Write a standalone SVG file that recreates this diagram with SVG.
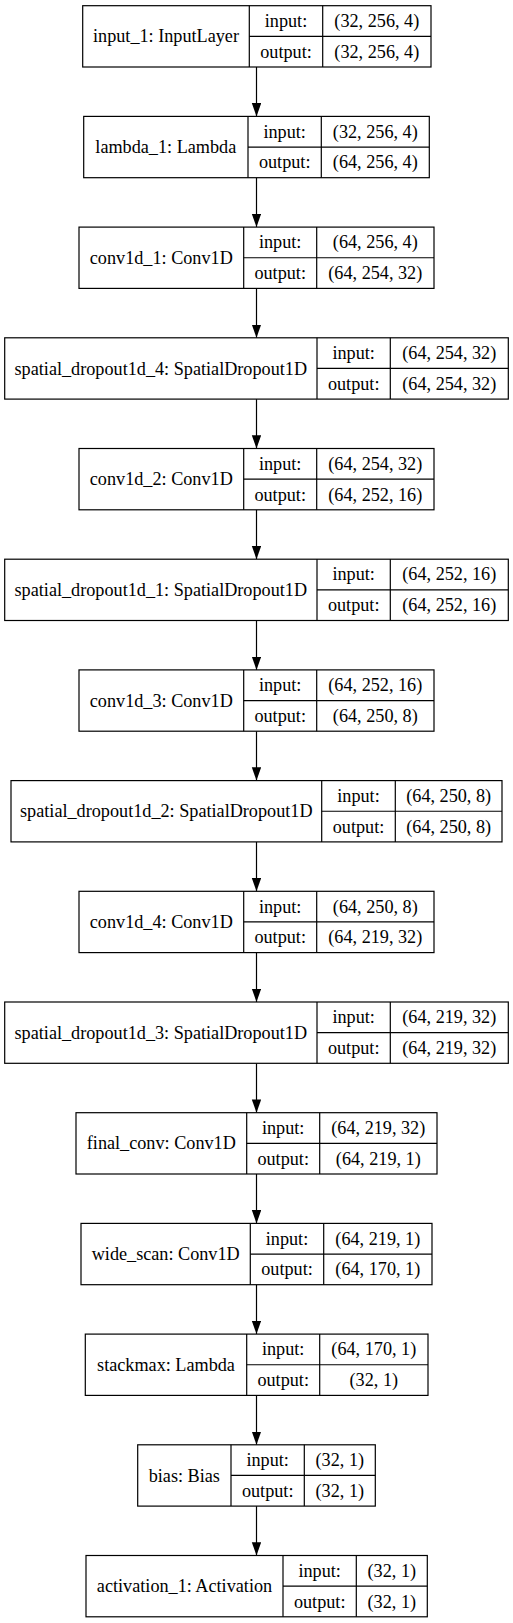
<svg xmlns="http://www.w3.org/2000/svg" width="513" height="1623" viewBox="0 0 513 1623">
<style>
rect,line.s{fill:#fff;stroke:#000;stroke-width:1.2}
text{font-family:"Liberation Serif","Times New Roman",serif;font-size:18.2px;fill:#000;text-anchor:middle}
.c line{stroke:#000;stroke-width:1.2}
</style>
<defs>
<marker id="ah" markerUnits="userSpaceOnUse" markerWidth="14" markerHeight="10" refX="13.3" refY="4.7" orient="auto">
<path d="M0,0 L13.3,4.7 L0,9.4 z" fill="#000"/>
</marker>
</defs>
<rect x="0" y="0" width="513" height="1623" style="stroke:none"/>
<g class="c" id="connectors">
<line x1="256.5" y1="67" x2="256.5" y2="116.4" marker-end="url(#ah)"/>
<line x1="256.5" y1="177.7" x2="256.5" y2="227.1" marker-end="url(#ah)"/>
<line x1="256.5" y1="288.4" x2="256.5" y2="337.8" marker-end="url(#ah)"/>
<line x1="256.5" y1="399.1" x2="256.5" y2="448.5" marker-end="url(#ah)"/>
<line x1="256.5" y1="509.8" x2="256.5" y2="559.2" marker-end="url(#ah)"/>
<line x1="256.5" y1="620.5" x2="256.5" y2="669.9" marker-end="url(#ah)"/>
<line x1="256.5" y1="731.2" x2="256.5" y2="780.6" marker-end="url(#ah)"/>
<line x1="256.5" y1="841.9" x2="256.5" y2="891.3" marker-end="url(#ah)"/>
<line x1="256.5" y1="952.6" x2="256.5" y2="1002" marker-end="url(#ah)"/>
<line x1="256.5" y1="1063.3" x2="256.5" y2="1112.7" marker-end="url(#ah)"/>
<line x1="256.5" y1="1174" x2="256.5" y2="1223.4" marker-end="url(#ah)"/>
<line x1="256.5" y1="1284.7" x2="256.5" y2="1334.1" marker-end="url(#ah)"/>
<line x1="256.5" y1="1395.4" x2="256.5" y2="1444.8" marker-end="url(#ah)"/>
<line x1="256.5" y1="1506.1" x2="256.5" y2="1555.5" marker-end="url(#ah)"/>
</g>
<g id="input_1" transform="translate(0,5.7)">
<rect x="82.7" y="0" width="348.3" height="61.3"/>
<line class="s" x1="249.3" y1="0" x2="249.3" y2="61.3"/><line class="s" x1="322.7" y1="0" x2="322.7" y2="61.3"/><line class="s" x1="249.3" y1="30.65" x2="431" y2="30.65"/>
<text x="166" y="36.8">input_1: InputLayer</text>
<text x="286" y="21.3">input:</text><text x="376.8" y="21.3">(32, 256, 4)</text>
<text x="286" y="52">output:</text><text x="376.8" y="52">(32, 256, 4)</text>
</g>
<g id="lambda_1" transform="translate(0,116.4)">
<rect x="83.7" y="0" width="345.6" height="61.3"/>
<line class="s" x1="248" y1="0" x2="248" y2="61.3"/><line class="s" x1="321.3" y1="0" x2="321.3" y2="61.3"/><line class="s" x1="248" y1="30.65" x2="429.3" y2="30.65"/>
<text x="165.8" y="36.8">lambda_1: Lambda</text>
<text x="284.7" y="21.3">input:</text><text x="375.3" y="21.3">(32, 256, 4)</text>
<text x="284.7" y="52">output:</text><text x="375.3" y="52">(64, 256, 4)</text>
</g>
<g id="conv1d_1" transform="translate(0,227.1)">
<rect x="79" y="0" width="355" height="61.3"/>
<line class="s" x1="243.7" y1="0" x2="243.7" y2="61.3"/><line class="s" x1="316.7" y1="0" x2="316.7" y2="61.3"/><line class="s" x1="243.7" y1="30.65" x2="434" y2="30.65"/>
<text x="161.3" y="36.8">conv1d_1: Conv1D</text>
<text x="280.2" y="21.3">input:</text><text x="375.3" y="21.3">(64, 256, 4)</text>
<text x="280.2" y="52">output:</text><text x="375.3" y="52">(64, 254, 32)</text>
</g>
<g id="spatial_dropout1d_4" transform="translate(0,337.8)">
<rect x="4.7" y="0" width="503.6" height="61.3"/>
<line class="s" x1="317" y1="0" x2="317" y2="61.3"/><line class="s" x1="390.3" y1="0" x2="390.3" y2="61.3"/><line class="s" x1="317" y1="30.65" x2="508.3" y2="30.65"/>
<text x="160.8" y="36.8">spatial_dropout1d_4: SpatialDropout1D</text>
<text x="353.7" y="21.3">input:</text><text x="449.3" y="21.3">(64, 254, 32)</text>
<text x="353.7" y="52">output:</text><text x="449.3" y="52">(64, 254, 32)</text>
</g>
<g id="conv1d_2" transform="translate(0,448.5)">
<rect x="79" y="0" width="355" height="61.3"/>
<line class="s" x1="243.7" y1="0" x2="243.7" y2="61.3"/><line class="s" x1="316.7" y1="0" x2="316.7" y2="61.3"/><line class="s" x1="243.7" y1="30.65" x2="434" y2="30.65"/>
<text x="161.3" y="36.8">conv1d_2: Conv1D</text>
<text x="280.2" y="21.3">input:</text><text x="375.3" y="21.3">(64, 254, 32)</text>
<text x="280.2" y="52">output:</text><text x="375.3" y="52">(64, 252, 16)</text>
</g>
<g id="spatial_dropout1d_1" transform="translate(0,559.2)">
<rect x="4.7" y="0" width="503.6" height="61.3"/>
<line class="s" x1="317" y1="0" x2="317" y2="61.3"/><line class="s" x1="390.3" y1="0" x2="390.3" y2="61.3"/><line class="s" x1="317" y1="30.65" x2="508.3" y2="30.65"/>
<text x="160.8" y="36.8">spatial_dropout1d_1: SpatialDropout1D</text>
<text x="353.7" y="21.3">input:</text><text x="449.3" y="21.3">(64, 252, 16)</text>
<text x="353.7" y="52">output:</text><text x="449.3" y="52">(64, 252, 16)</text>
</g>
<g id="conv1d_3" transform="translate(0,669.9)">
<rect x="79" y="0" width="355" height="61.3"/>
<line class="s" x1="243.7" y1="0" x2="243.7" y2="61.3"/><line class="s" x1="316.7" y1="0" x2="316.7" y2="61.3"/><line class="s" x1="243.7" y1="30.65" x2="434" y2="30.65"/>
<text x="161.3" y="36.8">conv1d_3: Conv1D</text>
<text x="280.2" y="21.3">input:</text><text x="375.3" y="21.3">(64, 252, 16)</text>
<text x="280.2" y="52">output:</text><text x="375.3" y="52">(64, 250, 8)</text>
</g>
<g id="spatial_dropout1d_2" transform="translate(0,780.6)">
<rect x="11" y="0" width="491" height="61.3"/>
<line class="s" x1="321.7" y1="0" x2="321.7" y2="61.3"/><line class="s" x1="395.3" y1="0" x2="395.3" y2="61.3"/><line class="s" x1="321.7" y1="30.65" x2="502" y2="30.65"/>
<text x="166.3" y="36.8">spatial_dropout1d_2: SpatialDropout1D</text>
<text x="358.5" y="21.3">input:</text><text x="448.7" y="21.3">(64, 250, 8)</text>
<text x="358.5" y="52">output:</text><text x="448.7" y="52">(64, 250, 8)</text>
</g>
<g id="conv1d_4" transform="translate(0,891.3)">
<rect x="79" y="0" width="355" height="61.3"/>
<line class="s" x1="243.7" y1="0" x2="243.7" y2="61.3"/><line class="s" x1="316.7" y1="0" x2="316.7" y2="61.3"/><line class="s" x1="243.7" y1="30.65" x2="434" y2="30.65"/>
<text x="161.3" y="36.8">conv1d_4: Conv1D</text>
<text x="280.2" y="21.3">input:</text><text x="375.3" y="21.3">(64, 250, 8)</text>
<text x="280.2" y="52">output:</text><text x="375.3" y="52">(64, 219, 32)</text>
</g>
<g id="spatial_dropout1d_3" transform="translate(0,1002)">
<rect x="4.7" y="0" width="503.6" height="61.3"/>
<line class="s" x1="317" y1="0" x2="317" y2="61.3"/><line class="s" x1="390.3" y1="0" x2="390.3" y2="61.3"/><line class="s" x1="317" y1="30.65" x2="508.3" y2="30.65"/>
<text x="160.8" y="36.8">spatial_dropout1d_3: SpatialDropout1D</text>
<text x="353.7" y="21.3">input:</text><text x="449.3" y="21.3">(64, 219, 32)</text>
<text x="353.7" y="52">output:</text><text x="449.3" y="52">(64, 219, 32)</text>
</g>
<g id="final_conv" transform="translate(0,1112.7)">
<rect x="76" y="0" width="361" height="61.3"/>
<line class="s" x1="246.7" y1="0" x2="246.7" y2="61.3"/><line class="s" x1="319.7" y1="0" x2="319.7" y2="61.3"/><line class="s" x1="246.7" y1="30.65" x2="437" y2="30.65"/>
<text x="161.3" y="36.8">final_conv: Conv1D</text>
<text x="283.2" y="21.3">input:</text><text x="378.3" y="21.3">(64, 219, 32)</text>
<text x="283.2" y="52">output:</text><text x="378.3" y="52">(64, 219, 1)</text>
</g>
<g id="wide_scan" transform="translate(0,1223.4)">
<rect x="81" y="0" width="351" height="61.3"/>
<line class="s" x1="250.3" y1="0" x2="250.3" y2="61.3"/><line class="s" x1="323.7" y1="0" x2="323.7" y2="61.3"/><line class="s" x1="250.3" y1="30.65" x2="432" y2="30.65"/>
<text x="165.7" y="36.8">wide_scan: Conv1D</text>
<text x="287" y="21.3">input:</text><text x="377.8" y="21.3">(64, 219, 1)</text>
<text x="287" y="52">output:</text><text x="377.8" y="52">(64, 170, 1)</text>
</g>
<g id="stackmax" transform="translate(0,1334.1)">
<rect x="85.3" y="0" width="342.7" height="61.3"/>
<line class="s" x1="246.7" y1="0" x2="246.7" y2="61.3"/><line class="s" x1="319.7" y1="0" x2="319.7" y2="61.3"/><line class="s" x1="246.7" y1="30.65" x2="428" y2="30.65"/>
<text x="166" y="36.8">stackmax: Lambda</text>
<text x="283.2" y="21.3">input:</text><text x="373.8" y="21.3">(64, 170, 1)</text>
<text x="283.2" y="52">output:</text><text x="373.8" y="52">(32, 1)</text>
</g>
<g id="bias" transform="translate(0,1444.8)">
<rect x="137.7" y="0" width="237.6" height="61.3"/>
<line class="s" x1="231" y1="0" x2="231" y2="61.3"/><line class="s" x1="304.3" y1="0" x2="304.3" y2="61.3"/><line class="s" x1="231" y1="30.65" x2="375.3" y2="30.65"/>
<text x="184.3" y="36.8">bias: Bias</text>
<text x="267.7" y="21.3">input:</text><text x="339.8" y="21.3">(32, 1)</text>
<text x="267.7" y="52">output:</text><text x="339.8" y="52">(32, 1)</text>
</g>
<g id="activation_1" transform="translate(0,1555.5)">
<rect x="86" y="0" width="341.3" height="61.3"/>
<line class="s" x1="283" y1="0" x2="283" y2="61.3"/><line class="s" x1="356.3" y1="0" x2="356.3" y2="61.3"/><line class="s" x1="283" y1="30.65" x2="427.3" y2="30.65"/>
<text x="184.5" y="36.8">activation_1: Activation</text>
<text x="319.7" y="21.3">input:</text><text x="391.8" y="21.3">(32, 1)</text>
<text x="319.7" y="52">output:</text><text x="391.8" y="52">(32, 1)</text>
</g>
</svg>
